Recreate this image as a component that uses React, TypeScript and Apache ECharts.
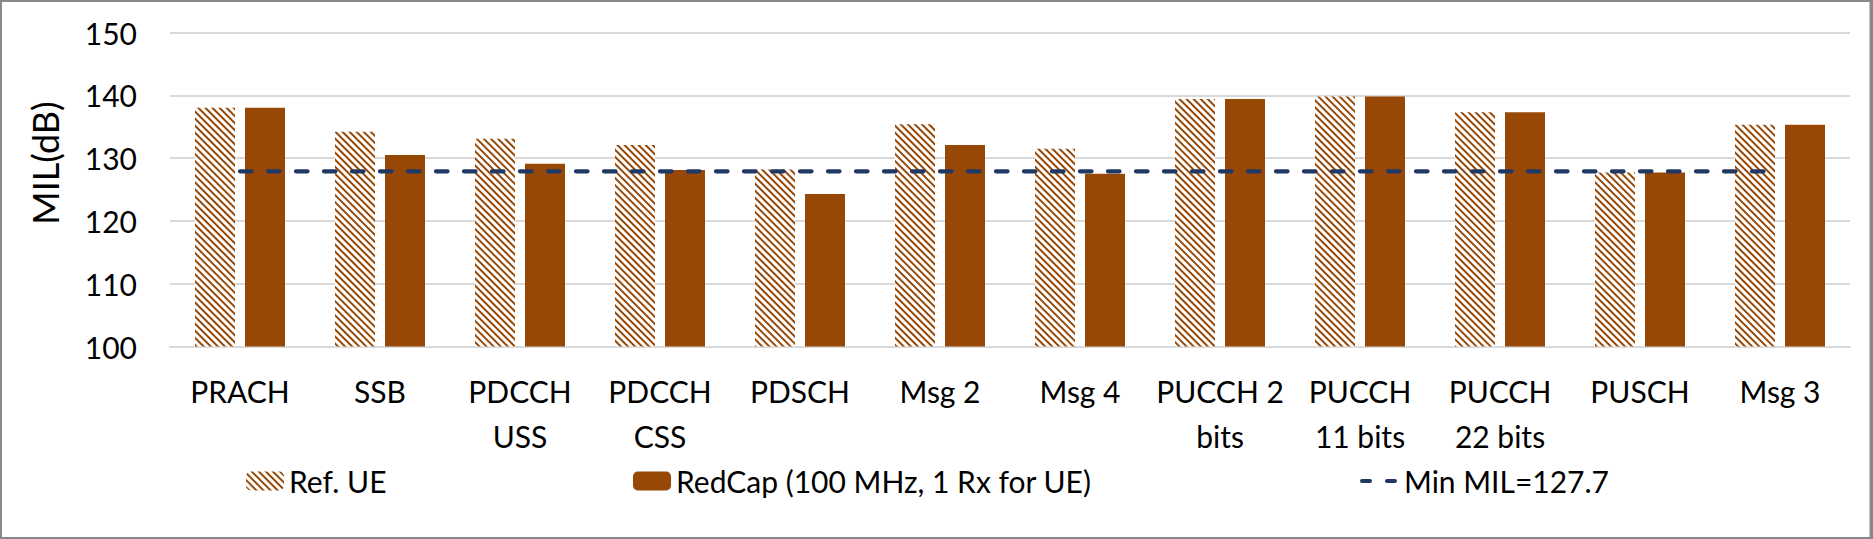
import React, { useEffect, useRef } from "react";
import * as echarts from "echarts";

const categories = [
  "PRACH",
  "SSB",
  "PDCCH\nUSS",
  "PDCCH\nCSS",
  "PDSCH",
  "Msg 2",
  "Msg 4",
  "PUCCH 2\nbits",
  "PUCCH\n11 bits",
  "PUCCH\n22 bits",
  "PUSCH",
  "Msg 3",
];

const refUE = [138.0, 134.2, 133.1, 132.1, 128.2, 135.4, 131.5, 139.4, 139.8, 137.3, 127.7, 135.3];
const redCap = [138.0, 130.5, 129.1, 128.1, 124.3, 132.1, 127.5, 139.4, 139.8, 137.3, 127.7, 135.3];
const minMIL = [127.9, 127.9, 127.9, 127.9, 127.9, 127.9, 127.9, 127.9, 127.9, 127.9, 127.9, 127.9];

const yTicks = { min: 100, max: 150, interval: 10 };

const seriesNames = ["Ref. UE", "RedCap (100 MHz, 1 Rx for UE)", "Min MIL=127.7"];

const BROWN = "#974806";
const NAVY = "#1F3864";
const FONT = "Lato";

export default function App() {
  const ref = useRef<HTMLDivElement>(null);

  useEffect(() => {
    document.body.style.margin = "0";
    if (!ref.current) return;
    const chart = echarts.init(ref.current, undefined, { renderer: "svg" });
    const legendText = { fontFamily: FONT, fontSize: 30, color: "#000" };
    chart.setOption({
      animation: false,
      backgroundColor: "#fff",
      grid: { left: 170, right: 23, top: 32.5, bottom: 192.5, containLabel: false },
      xAxis: {
        type: "category",
        data: categories,
        axisLine: { lineStyle: { color: "#d9d9d9", width: 2 } },
        axisTick: { show: false },
        axisLabel: {
          interval: 0,
          fontFamily: FONT,
          fontSize: 30,
          lineHeight: 45,
          color: "#000",
          margin: 22,
          align: "center",
        },
      },
      yAxis: {
        type: "value",
        min: yTicks.min,
        max: yTicks.max,
        interval: yTicks.interval,
        axisLine: { show: false },
        axisTick: { show: false },
        splitLine: { lineStyle: { color: "#d9d9d9", width: 2 } },
        axisLabel: { fontFamily: FONT, fontSize: 30, color: "#000", margin: 33 },
      },
      legend: [
        {
          data: [seriesNames[0]],
          left: 241,
          top: 461,
          itemWidth: 38,
          itemHeight: 19,
          textStyle: legendText,
        },
        {
          data: [seriesNames[1]],
          left: 628,
          top: 461,
          itemWidth: 38,
          itemHeight: 19,
          textStyle: legendText,
        },
        {
          data: [seriesNames[2]],
          left: 1355,
          top: 461,
          itemWidth: 37,
          itemHeight: 19,
          textStyle: legendText,
          itemStyle: { opacity: 0 },
          lineStyle: { color: NAVY, width: 4, type: [8, 17], cap: "round" },
        },
      ],
      graphic: [
        {
          type: "text",
          x: 45,
          y: 163,
          rotation: Math.PI / 2,
          style: {
            text: "MIL(dB)",
            fontFamily: FONT,
            fontSize: 36,
            fill: "#000",
            textAlign: "center",
            textVerticalAlign: "middle",
          },
        },
        {
          type: "rect",
          shape: { x: 1, y: 1, width: 1869.5, height: 537 },
          style: { fill: "none", stroke: "#898989", lineWidth: 2 },
          silent: true,
          z: 100,
        },
        {
          type: "rect",
          shape: { x: 1870, y: 0, width: 3, height: 539 },
          style: { fill: "#898989" },
          silent: true,
          z: 100,
        },
      ],
      series: [
        {
          name: seriesNames[0],
          type: "bar",
          data: refUE,
          barWidth: 40,
          barGap: "25%",
          itemStyle: {
            color: "#ffffff",
            decal: {
              symbol: "rect",
              symbolSize: 1,
              color: BROWN,
              backgroundColor: "#ffffff",
              dashArrayX: [1, 0],
              dashArrayY: [2, 3],
              rotation: Math.PI / 4,
            },
          },
        },
        {
          name: seriesNames[1],
          type: "bar",
          data: redCap,
          barWidth: 40,
          barGap: "25%",
          itemStyle: { color: BROWN },
        },
        {
          name: seriesNames[2],
          type: "line",
          data: minMIL,
          symbol: "none",
          z: 5,
          itemStyle: { color: NAVY },
          lineStyle: { color: NAVY, width: 4.3, type: [11.5, 16.5], cap: "round" },
        },
      ],
    });
    return () => chart.dispose();
  }, []);

  return <div ref={ref} style={{ width: 1873, height: 539 }} />;
}
